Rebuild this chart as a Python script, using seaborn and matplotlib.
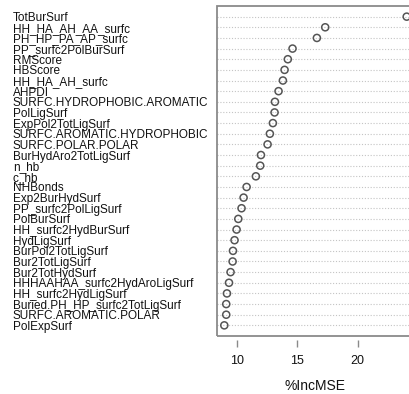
import matplotlib
matplotlib.use("Agg")
import matplotlib.pyplot as plt
from matplotlib.patches import Rectangle
import seaborn as sns
import pandas as pd

# Variable importance (%IncMSE), ordered from most to least important
variables = [
    "TotBurSurf", "HH_HA_AH_AA_surfc", "PH_HP_PA_AP_surfc", "PP_surfc2PolBurSurf",
    "RMScore", "HBScore", "HH_HA_AH_surfc", "AHPDI",
    "SURFC.HYDROPHOBIC.AROMATIC", "PolLigSurf", "ExpPol2TotLigSurf",
    "SURFC.AROMATIC.HYDROPHOBIC", "SURFC.POLAR.POLAR", "BurHydAro2TotLigSurf",
    "n_hb", "c_hb", "NHBonds", "Exp2BurHydSurf", "PP_surfc2PolLigSurf",
    "PolBurSurf", "HH_surfc2HydBurSurf", "HydLigSurf", "BurPol2TotLigSurf",
    "Bur2TotLigSurf", "Bur2TotHydSurf", "HHHAAHAA_surfc2HydAroLigSurf",
    "HH_surfc2HydLigSurf", "Buried.PH_HP_surfc2TotLigSurf",
    "SURFC.AROMATIC.POLAR", "PolExpSurf",
]
inc_mse = [
    24.08, 17.32, 16.63, 14.61, 14.22, 13.95, 13.81, 13.45,
    13.15, 13.12, 12.98, 12.73, 12.54, 11.99, 11.93, 11.57,
    10.80, 10.55, 10.38, 10.11, 9.97, 9.80, 9.67, 9.64,
    9.47, 9.34, 9.17, 9.11, 9.11, 8.95,
]
x_ticks = [10, 15, 20]

df = pd.DataFrame({"variable": variables, "IncMSE": inc_mse})
df["row"] = range(len(df))

sns.set_style("white")
plt.rcParams["font.family"] = ["Liberation Sans", "DejaVu Sans"]

W, H = 409, 394
fig = plt.figure(figsize=(W / 100, H / 100), dpi=100)
left, right, top, bottom = 217, 414, 6, 336
ax = fig.add_axes([left / W, 1 - bottom / H, (right - left) / W, (bottom - top) / H])

# x range padded by 4% on each side
lo, hi = min(inc_mse), max(inc_mse)
pad = 0.04 * (hi - lo)
ax.set_xlim(lo - pad, hi + pad)
n = len(df)
ax.set_ylim(n, -1)

# dotted guide lines
for r in df["row"]:
    ax.axhline(r, color="#c4c4c4", lw=0.8, ls=(0, (1, 1.6)), zorder=1)

sns.scatterplot(data=df, x="IncMSE", y="row", ax=ax, marker="o", s=26,
                facecolor="none", edgecolor="#555555", linewidth=1.1, zorder=3,
                legend=False)

# frame
for s in ax.spines.values():
    s.set_visible(False)
ax.add_patch(Rectangle((0, 0), 1, 1, transform=ax.transAxes, fill=False,
                       edgecolor="#8a8a8a", lw=1.3, zorder=4, clip_on=False))

ax.set_yticks(df["row"])
ax.set_yticklabels(df["variable"], fontsize=8.5, color="#111111")
for lab in ax.get_yticklabels():
    lab.set_horizontalalignment("left")
ax.tick_params(axis="y", length=0, pad=(left - 13) * 72 / 100)

ax.spines["bottom"].set_position(("outward", 3))
ax.set_xticks(x_ticks)
ax.set_xticklabels([str(t) for t in x_ticks], fontsize=9, color="#111111")
ax.tick_params(axis="x", length=5, width=1.0, color="#8a8a8a", pad=5.5, direction="out",
               bottom=True)

ax.set_xlabel("%IncMSE", fontsize=10, color="#111111", labelpad=9)
ax.set_ylabel("")

fig.savefig("out.png", dpi=100)
